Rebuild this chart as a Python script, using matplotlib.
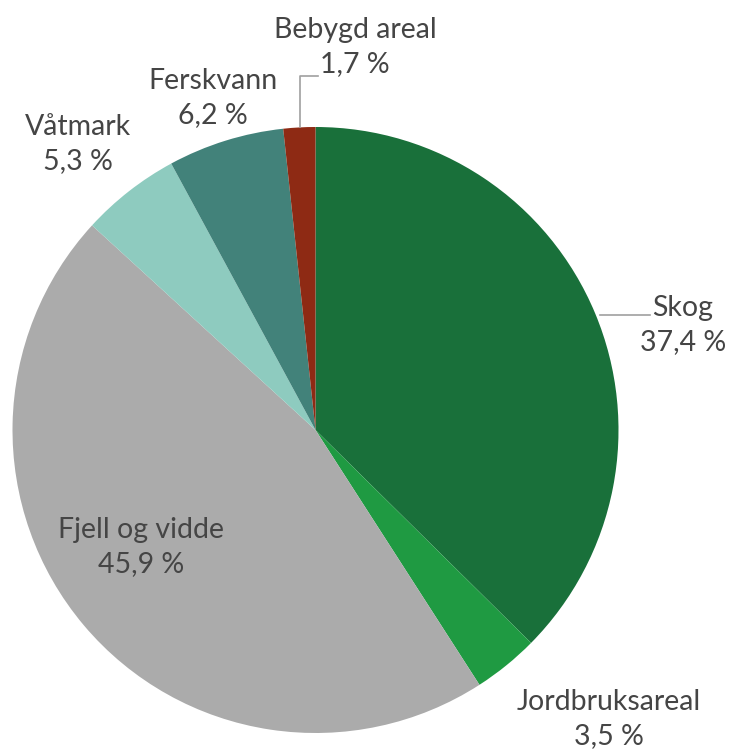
import matplotlib.pyplot as plt

plt.rcParams['font.family'] = ['Lato', 'DejaVu Sans']

categories = ['Skog', 'Jordbruksareal', 'Fjell og vidde', 'Våtmark', 'Ferskvann', 'Bebygd areal']
shares = [37.4, 3.5, 45.9, 5.3, 6.2, 1.7]
colors = ['#19703a', '#1f9a42', '#ababab', '#8ecbbf', '#42827a', '#8e2a14']

W, H = 733, 753
# label centres in pixels (x, y from top)
label_pos = [(683, 325), (609, 719), (141, 547), (78, 144), (213, 98), (355, 47)]

fig = plt.figure(figsize=(W / 100, H / 100), dpi=100)
ax = fig.add_axes([0, 0, 1, 1])
ax.pie(shares, colors=colors, startangle=90, counterclock=False,
       center=(315.5, H - 430), radius=303, wedgeprops=dict(linewidth=0))
ax.set_xlim(0, W)
ax.set_ylim(0, H)
ax.set_aspect('equal')
ax.axis('off')

for name, val, (x, y) in zip(categories, shares, label_pos):
    pct = f"{val:.1f} %".replace('.', ',')
    ax.text(x, H - y, name + '\n' + pct, ha='center', va='center',
            fontsize=20.5, color='#454545', linespacing=1.4)

# leader lines
ax.plot([600, 650], [H - 315, H - 315], color='#a0a0a0', lw=1.2)
ax.plot([300, 300, 318], [H - 127, H - 76, H - 76], color='#a0a0a0', lw=1.2)

plt.savefig('out.png', dpi=100, facecolor='white')
